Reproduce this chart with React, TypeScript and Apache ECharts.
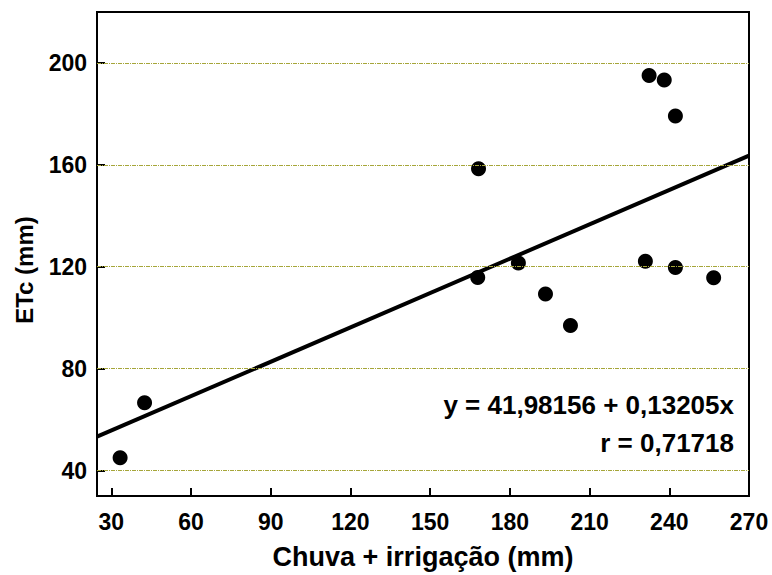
import React, { useEffect, useRef } from "react";
import * as echarts from "echarts";

const rainIrrigation = [33.3, 42.5, 168.2, 167.9, 183.2, 193.4, 202.8, 231.0, 232.4, 238.1, 242.3, 242.3, 256.7];
const etcValues = [45.0, 66.6, 158.5, 115.8, 121.5, 109.3, 96.9, 122.2, 195.1, 193.3, 179.2, 119.7, 115.7];
const fitLineX = [24.6, 270];
const fitLineY = [53.3, 163.6];
const xTicks = [30, 60, 90, 120, 150, 180, 210, 240, 270];
const yTicks = [40, 80, 120, 160, 200];
const equationText = "y = 41,98156 + 0,13205x";
const rText = "r = 0,71718";
const xTitle = "Chuva + irrigação (mm)";
const yTitle = "ETc (mm)";

const FONT = "'Liberation Sans', Arial, sans-serif";

export default function App() {
  const ref = useRef<HTMLDivElement>(null);
  useEffect(() => {
    if (!ref.current) return;
    const chart = echarts.init(ref.current, undefined, { renderer: "svg" });
    const labelStyle = { fontFamily: FONT, fontWeight: "bold" as const, fontSize: 23, color: "#000" };
    chart.setOption({
      animation: false,
      backgroundColor: "#fff",
      grid: { left: 97, top: 12, right: 23, bottom: 79, show: true, borderColor: "#000", borderWidth: 2, backgroundColor: "transparent" },
      xAxis: {
        type: "value",
        min: 24.6,
        max: 270,
        axisLine: { show: true, lineStyle: { color: "#000", width: 2 } },
        axisTick: { show: true, inside: true, length: 8, customValues: xTicks, lineStyle: { color: "#000", width: 2 } },
        axisLabel: { ...labelStyle, margin: 14, customValues: xTicks },
        splitLine: { show: false },
      },
      yAxis: {
        type: "value",
        min: 30,
        max: 220,
        axisLine: { show: true, lineStyle: { color: "#000", width: 2 } },
        axisTick: { show: true, inside: true, length: 8, customValues: yTicks, lineStyle: { color: "#000", width: 2 } },
        axisLabel: { ...labelStyle, margin: 10, customValues: yTicks },
        splitLine: { show: false },
      },
      series: [
        {
          type: "line",
          data: [],
          silent: true,
          markLine: {
            silent: true,
            symbol: "none",
            label: { show: false },
            lineStyle: { color: "#a6a63a", width: 1, type: [4, 1, 1, 1] },
            data: yTicks.map((v) => ({ yAxis: v })),
          },
        },
        {
          type: "line",
          data: fitLineX.map((x, i) => [x, fitLineY[i]]),
          showSymbol: false,
          symbol: "none",
          lineStyle: { color: "#000", width: 4 },
          silent: true,
        },
        {
          type: "scatter",
          data: rainIrrigation.map((x, i) => [x, etcValues[i]]),
          symbol: "circle",
          symbolSize: 15,
          itemStyle: { color: "#000", opacity: 1 },
        },
      ],
      graphic: [
        {
          type: "text",
          x: 734,
          y: 405,
          style: { text: equationText, fontFamily: FONT, fontWeight: "bold", fontSize: 26, fill: "#000", align: "right", verticalAlign: "middle" },
        },
        {
          type: "text",
          x: 734,
          y: 443,
          style: { text: rText, fontFamily: FONT, fontWeight: "bold", fontSize: 26, fill: "#000", align: "right", verticalAlign: "middle" },
        },
        {
          type: "text",
          x: 423,
          y: 557,
          style: { text: xTitle, fontFamily: FONT, fontWeight: "bold", fontSize: 27, fill: "#000", align: "center", verticalAlign: "middle" },
        },
        {
          type: "text",
          x: 24,
          y: 270,
          rotation: Math.PI / 2,
          style: { text: yTitle, fontFamily: FONT, fontWeight: "bold", fontSize: 24, fill: "#000", align: "center", verticalAlign: "middle" },
        },
      ],
    });
    return () => chart.dispose();
  }, []);
  return <div ref={ref} style={{ width: 772, height: 575, position: "absolute", left: 0, top: 0 }} />;
}
